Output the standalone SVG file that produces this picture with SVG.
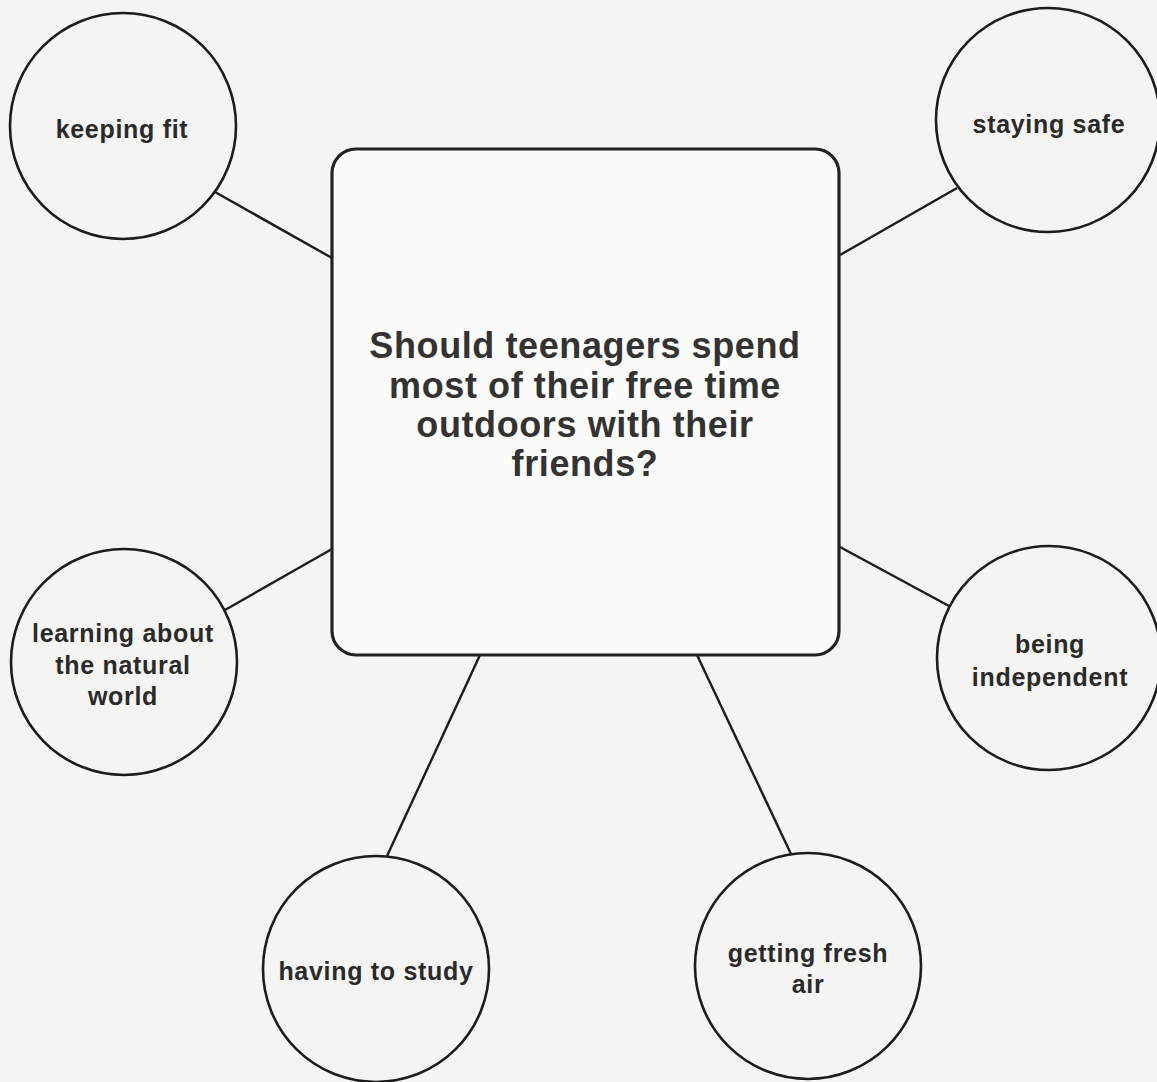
<svg xmlns="http://www.w3.org/2000/svg" width="1157" height="1082" viewBox="0 0 1157 1082">
<style>
.bg{fill:#f4f4f2}
.node{fill:none;stroke:#1c1c1c;stroke-width:2.6}
.box{fill:#fbfbfa;stroke:#222;stroke-width:3.2}
.conn line{stroke:#1c1c1c;stroke-width:2.4}
.lbl{font-family:"Liberation Sans",Arial,sans-serif;font-weight:bold;font-size:25px;letter-spacing:0.7px;fill:#2a2a2a;text-anchor:middle}
.q{font-family:"Liberation Sans",Arial,sans-serif;font-weight:bold;font-size:36px;letter-spacing:0.6px;fill:#333;text-anchor:middle}
</style>
<rect class="bg" x="0" y="0" width="1157" height="1082"/>
<g id="connectors" class="conn">
<line x1="215" y1="192" x2="332" y2="258"/>
<line x1="957" y1="188" x2="840" y2="255"/>
<line x1="225" y1="610" x2="332" y2="549"/>
<line x1="840" y1="547" x2="949" y2="606"/>
<line x1="480" y1="655" x2="387" y2="856"/>
<line x1="697" y1="655" x2="791" y2="854"/>
</g>
<g id="center">
<rect class="box" x="332" y="149" width="507" height="506" rx="24" ry="24"/>
<text class="q" x="585" y="358">Should teenagers spend</text>
<text class="q" x="585" y="398">most of their free time</text>
<text class="q" x="585" y="437">outdoors with their</text>
<text class="q" x="585" y="476">friends?</text>
</g>
<g id="keeping-fit">
<circle class="node" cx="123" cy="126" r="113"/>
<text class="lbl" x="122" y="138">keeping fit</text>
</g>
<g id="staying-safe">
<circle class="node" cx="1048" cy="120" r="112"/>
<text class="lbl" x="1049" y="133">staying safe</text>
</g>
<g id="learning">
<circle class="node" cx="124" cy="662" r="113"/>
<text class="lbl" x="123" y="642">learning about</text>
<text class="lbl" x="123" y="674">the natural</text>
<text class="lbl" x="123" y="705">world</text>
</g>
<g id="being-independent">
<circle class="node" cx="1049" cy="658" r="112"/>
<text class="lbl" x="1050" y="653">being</text>
<text class="lbl" x="1050" y="686">independent</text>
</g>
<g id="having-to-study">
<circle class="node" cx="376" cy="969" r="113"/>
<text class="lbl" x="376" y="980">having to study</text>
</g>
<g id="getting-fresh-air">
<circle class="node" cx="808" cy="966" r="113"/>
<text class="lbl" x="808" y="962">getting fresh</text>
<text class="lbl" x="808" y="993">air</text>
</g>
</svg>
